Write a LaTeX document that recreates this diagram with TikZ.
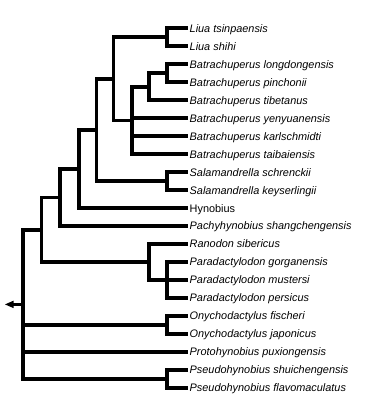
\documentclass[tikz,border=0pt]{standalone}
\usepackage{fontspec}
\setmainfont{Liberation Sans}
\tikzset{
  branch/.style={line width=3.7pt, line cap=butt, line join=miter},
  stub/.style={line width=3pt, line cap=butt},
  taxon/.style={anchor=base west, inner sep=0pt, font=\fontsize{10.9pt}{12pt}\selectfont\itshape},
  taxonup/.style={anchor=base west, inner sep=0pt, font=\fontsize{10.9pt}{12pt}\selectfont}
}
\begin{document}
\begin{tikzpicture}[x=1pt,y=-1pt]
\useasboundingbox (0,0) rectangle (370,399);
% leaves
\foreach \i/\t/\s in {
 1/Liua tsinpaensis/taxon,
 2/Liua shihi/taxon,
 3/Batrachuperus longdongensis/taxon,
 4/Batrachuperus pinchonii/taxon,
 5/Batrachuperus tibetanus/taxon,
 6/Batrachuperus yenyuanensis/taxon,
 7/Batrachuperus karlschmidti/taxon,
 8/Batrachuperus taibaiensis/taxon,
 9/Salamandrella schrenckii/taxon,
 10/Salamandrella keyserlingii/taxon,
 11/Hynobius/taxonup,
 12/Pachyhynobius shangchengensis/taxon,
 13/Ranodon sibericus/taxon,
 14/Paradactylodon gorganensis/taxon,
 15/Paradactylodon mustersi/taxon,
 16/Paradactylodon persicus/taxon,
 17/Onychodactylus fischeri/taxon,
 18/Onychodactylus japonicus/taxon,
 19/Protohynobius puxiongensis/taxon,
 20/Pseudohynobius shuichengensis/taxon,
 21/Pseudohynobius flavomaculatus/taxon}{
  \pgfmathsetmacro{\yy}{28.3+(\i-1)*17.98}
  \coordinate (L\i) at (187.5,\yy);
  \node[\s] (T\i) at (189.5,\yy+3.9) {\t};
}
% internal nodes
\coordinate (nLiua) at (167.3,37.3);
\coordinate (nB34) at (167.3,73.2);
\coordinate (nB345) at (149.3,86.7);
\coordinate (nBat) at (131.7,120.45);
\coordinate (nLB) at (113.5,78.9);
\coordinate (nSal) at (167.3,181.1);
\coordinate (nLBS) at (96.5,130);
\coordinate (nH) at (79,169.1);
\coordinate (nP) at (60,197.6);
\coordinate (nPar) at (167.3,280);
\coordinate (nRP) at (149.3,262);
\coordinate (nA) at (41.5,229.8);
\coordinate (nOny) at (167.3,325);
\coordinate (nPse) at (167.3,378.9);
\coordinate (root) at (23,304.4);
\coordinate (base) at (13.5,304.4);
\coordinate (out) at (5,304.4);
% branches
\foreach \p/\c in {nLiua/L1,nLiua/L2,nB34/L3,nB34/L4,nB345/nB34,nB345/L5,
  nBat/nB345,nBat/L6,nBat/L7,nBat/L8,nLB/nLiua,nLB/nBat,nSal/L9,nSal/L10,
  nLBS/nLB,nLBS/nSal,nH/nLBS,nH/L11,nP/nH,nP/L12,nPar/L14,nPar/L15,nPar/L16,
  nRP/L13,nRP/nPar,nA/nP,nA/nRP,nOny/L17,nOny/L18,nPse/L20,nPse/L21,
  root/nA,root/nOny,root/L19,root/nPse}{
  \draw[branch] (\p) |- (\c);
}
% root arrow
\draw[stub] (root) -- ([xshift=-0.5pt]base);
\fill ([yshift=-3.7pt]base) -- (out) -- ([yshift=3.7pt]base) -- cycle;
\end{tikzpicture}
\end{document}
